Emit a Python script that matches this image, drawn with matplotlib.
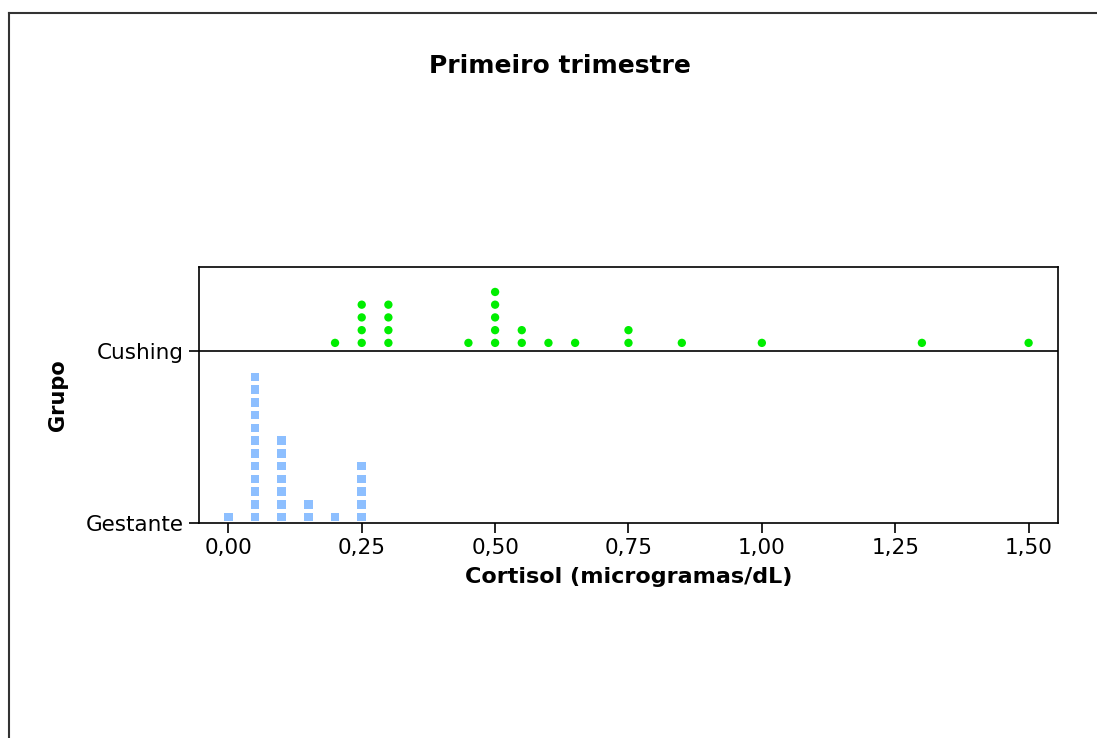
import matplotlib
matplotlib.use('Agg')
import matplotlib.pyplot as plt
import numpy as np
from matplotlib.ticker import FuncFormatter
from matplotlib.lines import Line2D

# valores (cortisol, microgramas/dL)
gestante_vals = [0.00] + [0.05] * 12 + [0.10] * 7 + [0.15] * 2 + [0.20] + [0.25] * 5
cushing_vals = ([0.20] + [0.25] * 4 + [0.30] * 4 + [0.45] + [0.50] * 5 + [0.55] * 2 +
                [0.60] + [0.65] + [0.75] * 2 + [0.85] + [1.00] + [1.30] + [1.50])
grupos = ['Gestante', 'Cushing']
xticks = [0.00, 0.25, 0.50, 0.75, 1.00, 1.25, 1.50]

step = 0.074  # distância vertical entre pontos empilhados


def stack(vals, base, off):
    xs, ys = [], []
    count = {}
    for v in vals:
        k = round(v, 3)
        n = count.get(k, 0)
        count[k] = n + 1
        xs.append(v)
        ys.append(base + off + n * step)
    return xs, ys


fig = plt.figure(figsize=(10.97, 7.38), dpi=100)
ax = fig.add_axes([0.1814, 0.2913, 0.783, 0.3469])

# moldura da figura (só esquerda e topo visíveis)
fig.add_artist(Line2D([9 / 1097, 9 / 1097], [0, 1 - 13 / 738], transform=fig.transFigure,
                      color='#333333', lw=1.5))
fig.add_artist(Line2D([9 / 1097, 1], [1 - 13 / 738, 1 - 13 / 738], transform=fig.transFigure,
                      color='#333333', lw=1.5))

gx, gy = stack(gestante_vals, 0, 0.035)
cx, cy = stack(cushing_vals, 1, 0.047)
ax.scatter(gx, gy, marker='s', s=38, color='#8DBFFF', edgecolors='none', zorder=3)
ax.scatter(cx, cy, marker='o', s=36, color='#00EE00', edgecolors='none', zorder=3)

ax.axhline(1, color='black', lw=1.2)

ax.set_xlim(-0.055, 1.555)
ax.set_ylim(0, 1.488)
ax.set_xticks(xticks)
ax.xaxis.set_major_formatter(FuncFormatter(lambda v, p: f'{v:.2f}'.replace('.', ',')))
ax.set_yticks([0, 1])
ax.set_yticklabels(grupos)
ax.tick_params(axis='both', direction='out', length=7, width=1.2, labelsize=15.5, pad=4)
for s in ax.spines.values():
    s.set_linewidth(1.2)

ax.set_xlabel('Cortisol (microgramas/dL)', fontsize=16, fontweight='bold', labelpad=6)
fig.text(58 / 1097, 1 - 395 / 738, 'Grupo', rotation=90, fontsize=15, fontweight='bold',
         ha='center', va='center')
fig.text(560 / 1097, 1 - 66 / 738, 'Primeiro trimestre', fontsize=18, fontweight='bold',
         ha='center', va='center')

fig.savefig('out.png', dpi=100)
